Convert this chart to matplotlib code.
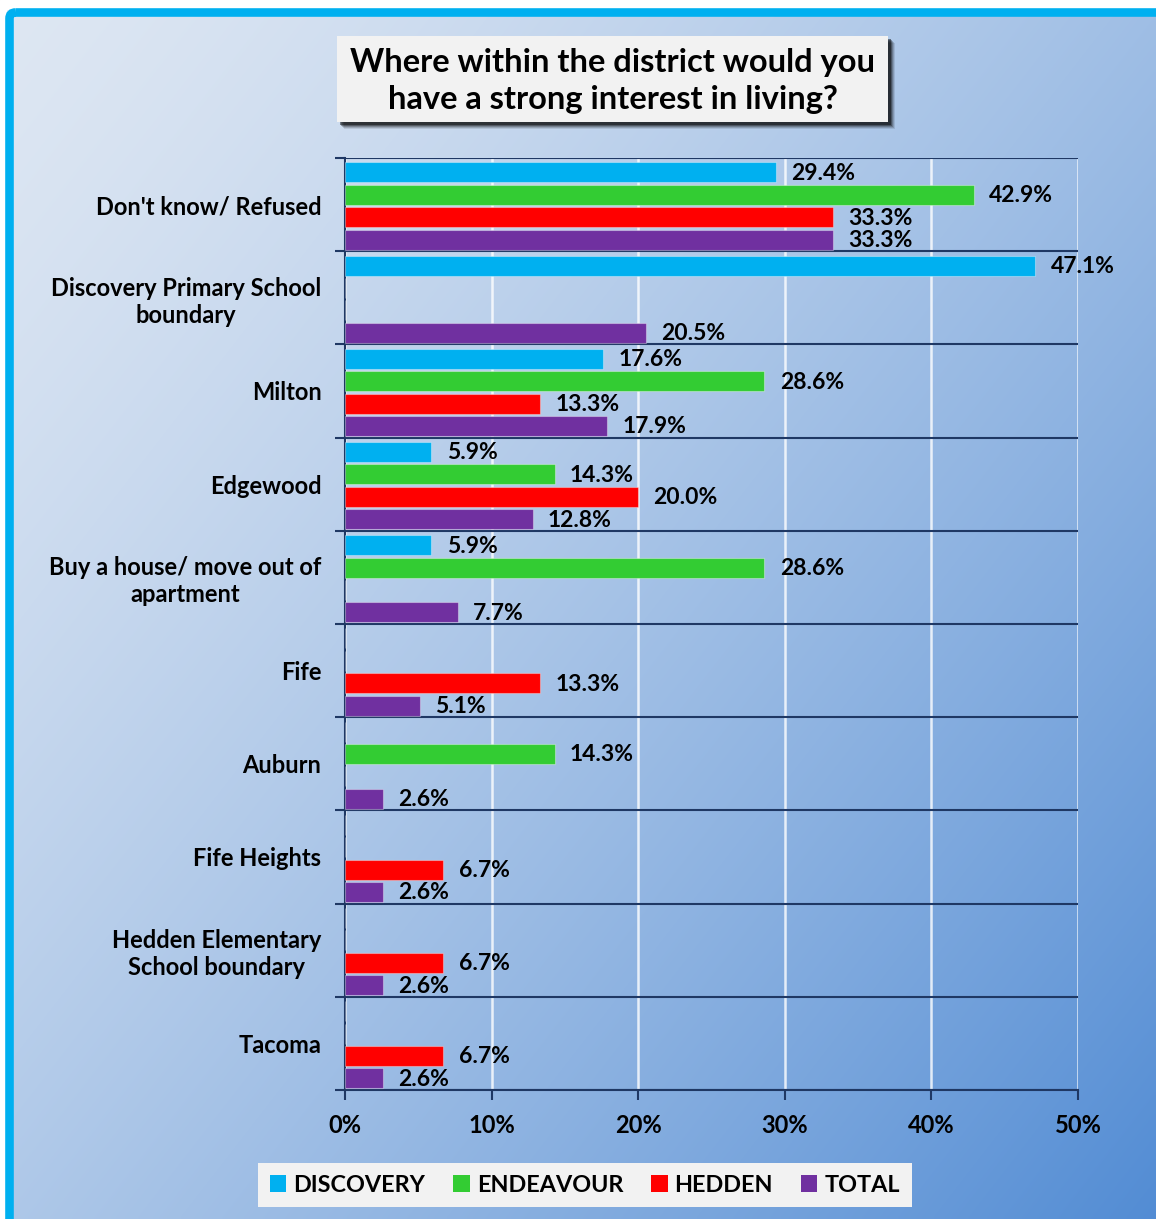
import numpy as np
import matplotlib
matplotlib.use("Agg")
import matplotlib.pyplot as plt
from matplotlib.patches import Rectangle, FancyBboxPatch, Patch

categories = ["Don't know/ Refused", "Discovery Primary School\nboundary", "Milton", "Edgewood",
              "Buy a house/ move out of\napartment", "Fife", "Auburn", "Fife Heights",
              "Hedden Elementary\nSchool boundary", "Tacoma"]
series_names = ["DISCOVERY", "ENDEAVOUR", "HEDDEN", "TOTAL"]
discovery = [29.4, 47.1, 17.6, 5.9, 5.9, 0, 0, 0, 0, 0]
endeavour = [42.9, 0, 28.6, 14.3, 28.6, 0, 14.3, 0, 0, 0]
hedden = [33.3, 0, 13.3, 20.0, 0, 13.3, 0, 6.7, 6.7, 6.7]
total = [33.3, 20.5, 17.9, 12.8, 7.7, 5.1, 2.6, 2.6, 2.6, 2.6]
colors = ["#00b0f0", "#33cc33", "#ff0000", "#7030a0"]
xticks = [0, 10, 20, 30, 40, 50]
title = "Where within the district would you\nhave a strong interest in living?"

FONT = "Lato"
W, H = 1156, 1219
fig = plt.figure(figsize=(W / 100, H / 100), dpi=100)

# background decoration axis in pixel coords
bg = fig.add_axes([0, 0, 1, 1], zorder=0)
bg.set_xlim(0, W)
bg.set_ylim(H, 0)
bg.axis("off")
yy, xx = np.mgrid[0:H:4, 0:W:4]
t = (xx / W * 0.55 + yy / H * 0.45)
t = np.clip(t, 0, 1) ** 1.35
c0 = np.array([222, 231, 243]) / 255
c1 = np.array([82, 140, 212]) / 255
img = c0[None, None, :] * (1 - t[..., None]) + c1[None, None, :] * t[..., None]
bg.imshow(img, extent=(0, W, H, 0), aspect="auto", interpolation="bilinear", zorder=0)
# white outside frame
bg.add_patch(Rectangle((0, 0), W, 9, color="white", zorder=1))
bg.add_patch(Rectangle((0, 0), 6, H, color="white", zorder=1))
# cyan frame
bg.add_patch(FancyBboxPatch((9.5, 12.5), W + 40, H + 40, boxstyle="round,pad=0,rounding_size=6",
                            facecolor="none", edgecolor="#00b0f0", linewidth=6.2, zorder=2))

# title box with shadow
bx, by, bw, bh = 337, 36, 551, 86
for i, a in enumerate([0.10, 0.15, 0.2, 0.3, 0.45]):
    off = 6 - i
    bg.add_patch(Rectangle((bx + off + 1, by + off + 1), bw, bh, facecolor="black", alpha=a,
                           edgecolor="none", zorder=3))
bg.add_patch(Rectangle((bx, by), bw, bh, facecolor="#f2f2f2", edgecolor="none", zorder=4))
bg.text(bx + bw / 2, by + bh / 2 + 2, title, ha="center", va="center", fontsize=23.5,
        fontweight="bold", family=FONT, linespacing=1.36, zorder=5)

# main axes
L, R, T, B = 345, 1078, 158, 1090
ax = fig.add_axes([L / W, 1 - B / H, (R - L) / W, (B - T) / H], zorder=2)
ax.patch.set_alpha(0)
n = len(categories)
y = np.arange(n)
data = [discovery, endeavour, hedden, total]
slot = 0.24
h = 0.215
for i, (vals, col) in enumerate(zip(data, colors)):
    pos = y + (i - 1.5) * slot + 0.015
    ax.barh(pos, vals, height=h, color=col, edgecolor=(1, 1, 1, 0.35), linewidth=0.8, zorder=3)
    for p, v in zip(pos, vals):
        if v > 0:
            ax.text(v + 1.05, p + 0.01, f"{v:.1f}%", va="center", ha="left", fontsize=16.5,
                    fontweight="bold", family=FONT, zorder=4)

ax.set_xlim(0, 50)
ax.set_ylim(n - 0.5, -0.5)
ax.set_xticks(xticks)
ax.set_xticklabels([f"{v}%" for v in xticks], fontsize=17, fontweight="bold", family=FONT)
ax.set_yticks(y)
ax.set_yticklabels(categories, fontsize=17, fontweight="bold", family=FONT, linespacing=1.2)
for lab in ax.get_yticklabels():
    lab.set_multialignment("center")
ax.set_yticks(np.arange(n + 1) - 0.5, minor=True)
ax.tick_params(axis="y", which="major", length=0, pad=17)
ax.tick_params(axis="y", which="minor", length=7, width=1.5, color="#1f3864")
ax.tick_params(axis="x", length=7, width=1.5, color="#1f3864", pad=10)
ax.grid(axis="x", color="white", linewidth=1.8, alpha=0.8, zorder=1)
ax.grid(axis="y", which="minor", color="#1f3864", linewidth=1.5, zorder=2)
for s in ["top", "right"]:
    ax.spines[s].set_visible(False)
ax.spines["left"].set_color("#1f3864")
ax.spines["left"].set_linewidth(1.5)
ax.spines["bottom"].set_color("#1f3864")
ax.spines["bottom"].set_linewidth(1.5)
ax.set_axisbelow(True)

handles = [Patch(facecolor=c, edgecolor="none") for c in colors]
leg = fig.legend(handles, series_names, loc="center", bbox_to_anchor=(585 / W, 1 - 1185 / H), ncol=4,
                 frameon=True, fancybox=False, handlelength=0.7, handleheight=0.7,
                 handletextpad=0.3, columnspacing=1.2, borderpad=0.5,
                 prop={"family": FONT, "weight": "bold", "size": 16.8})
leg.get_frame().set_facecolor("#f2f2f2")
leg.get_frame().set_edgecolor("none")
leg.get_frame().set_alpha(1)

fig.savefig("out.png", dpi=100)
